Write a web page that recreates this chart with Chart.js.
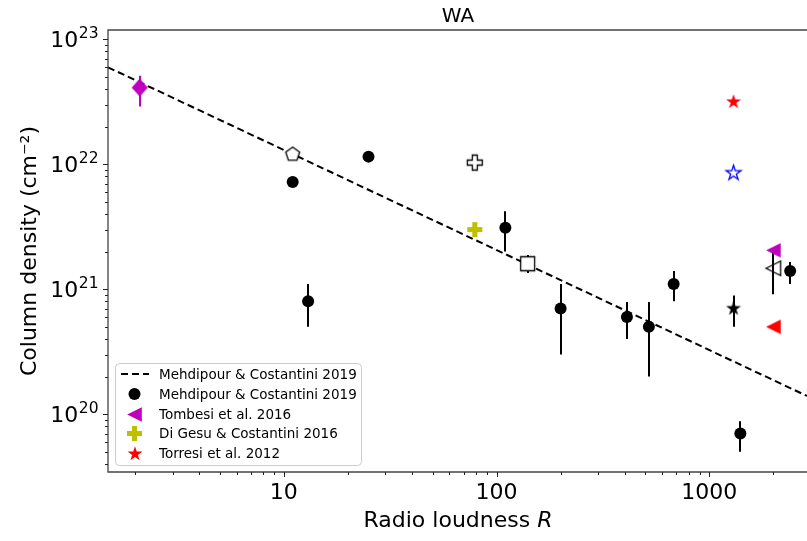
<!DOCTYPE html>
<html>
<head>
<meta charset="UTF-8">
<title>WA</title>
<script src="https://cdn.jsdelivr.net/npm/chart.js@4.4.1/dist/chart.umd.min.js"></script>
<style>
body{margin:0;background:#fff;}
</style>
</head>
<body>
<canvas id="wa" width="807" height="541"></canvas>
<script>
// Mehdipour & Costantini 2019, filled circles (radio loudness, NH, lower/upper NH)
var mcR  = [11, 13, 25, 110, 200, 410, 520, 680, 1400, 2400];
var mcNH = [7.2e21, 8.0e20, 1.15e22, 3.1e21, 7.0e20, 6.0e20, 5.0e20, 1.1e21, 7.0e19, 1.4e21];
var mcLo = [null, 5.0e20, null, 2.0e21, 3.0e20, 4.0e20, 2.0e20, 8.0e20, 5.0e19, 1.1e21];
var mcHi = [null, 1.1e21, null, 4.2e21, 1.1e21, 7.9e20, 7.9e20, 1.4e21, 8.8e19, 1.65e21];

// Mehdipour & Costantini 2019 fit, dashed line
var fitR  = [1.49, 2880];
var fitNH = [5.96e22, 1.40e20];

// Tombesi et al. 2016 (magenta)
var tbR  = [2.1, 2000];
var tbNH = [4.1e22, 2.05e21];
var tbLo = [2.9e22, null];
var tbHi = [5.1e22, null];

// Di Gesu & Costantini 2016 (yellow)
var dgR  = [79];
var dgNH = [3.0e21];

// Torresi et al. 2012 (red)
var toR  = [1300, 2000];
var toNH = [3.15e22, 5.0e20];

// other sources: open pentagon, open plus, open square, blue star, black star, open triangle
var otR  = [11, 79, 140, 1300, 1300, 2000];
var otNH = [1.2e22, 1.03e22, 1.6e21, 8.5e21, 7.0e20, 1.47e21];
var otLo = [null, null, 1.35e21, null, 5.0e20, 9.1e20];
var otHi = [null, null, 1.88e21, null, 8.9e20, 2.0e21];

var xTicks = [10, 100, 1000];
var xTickLabels = ['10', '100', '1000'];
var yTicks = [1e20, 1e21, 1e22, 1e23];
var yTickExp = ['20', '21', '22', '23'];

var legendLabels = ['Mehdipour & Costantini 2019', 'Mehdipour & Costantini 2019',
  'Tombesi et al. 2016', 'Di Gesu & Costantini 2016', 'Torresi et al. 2012'];

var FONT = 'DejaVu Sans';
var MAGENTA = '#bf00bf', YELLOW = '#bfbf00';

var shapes = {
  pentagon: function(g, r){ for (var i = 0; i < 5; i++){ var a = -Math.PI/2 + i*2*Math.PI/5; g.lineTo(r*Math.cos(a), r*Math.sin(a)); } },
  star: function(g, r){ for (var i = 0; i < 10; i++){ var a = -Math.PI/2 + i*Math.PI/5; var rr = i % 2 ? r*0.382 : r; g.lineTo(rr*Math.cos(a), rr*Math.sin(a)); } },
  plus: function(g, r){ var t = r/3;
    [[-t,-r],[t,-r],[t,-t],[r,-t],[r,t],[t,t],[t,r],[-t,r],[-t,t],[-r,t],[-r,-t],[-t,-t]].forEach(function(p){ g.lineTo(p[0], p[1]); }); },
  triLeft: function(g, r){ g.moveTo(-r, 0); g.lineTo(r, -r); g.lineTo(r, r); },
  diamond: function(g, r){ g.moveTo(0, -r); g.lineTo(r*0.9, 0); g.lineTo(0, r); g.lineTo(-r*0.9, 0); },
  square: function(g, r){ g.rect(-r, -r, 2*r, 2*r); }
};

function marker(kind, r, fill, stroke, lw) {
  var s = Math.ceil(2*r + 2*(lw || 0) + 2);
  var c = document.createElement('canvas');
  c.width = s; c.height = s;
  var g = c.getContext('2d');
  g.translate(s/2, s/2);
  g.beginPath(); shapes[kind](g, r); g.closePath();
  if (fill) { g.fillStyle = fill; g.fill(); }
  if (stroke) { g.lineWidth = lw; g.strokeStyle = stroke; g.stroke(); }
  return c;
}

var mk = {
  diamondM: marker('diamond', 9, MAGENTA),
  triM: marker('triLeft', 7.3, MAGENTA),
  plusY: marker('plus', 7.5, YELLOW),
  starR: marker('star', 7.8, 'red'),
  triR: marker('triLeft', 7.3, 'red'),
  pent: marker('pentagon', 7.3, '#fff', '#000', 1.3),
  plusO: marker('plus', 7.5, '#fff', '#000', 1.3),
  square: marker('square', 7, '#fff', '#000', 1.3),
  starB: marker('star', 7.8, '#fff', '#0000ff', 1.3),
  starK: marker('star', 7.8, '#000'),
  triO: marker('triLeft', 7.3, null, '#000', 1.3)
};

function pts(xs, ys) { return xs.map(function(x, i){ return {x: x, y: ys[i]}; }); }

// the fit line has the highest order so it is drawn underneath the markers
var datasets = [
  { type: 'line', order: 10, data: pts(fitR, fitNH), borderColor: '#000', borderWidth: 2, borderDash: [7, 4],
    pointRadius: 0, fill: false },
  { order: 1, data: pts(mcR, mcNH), errLo: mcLo, errHi: mcHi, errColor: '#000',
    pointStyle: 'circle', pointRadius: 6, backgroundColor: '#000', borderWidth: 0 },
  { order: 1, data: pts(tbR, tbNH), errLo: tbLo, errHi: tbHi, errColor: MAGENTA,
    pointStyle: [mk.diamondM, mk.triM], pointRadius: 6 },
  { order: 1, data: pts(dgR, dgNH), pointStyle: [mk.plusY], pointRadius: 6 },
  { order: 1, data: pts(toR, toNH), pointStyle: [mk.starR, mk.triR], pointRadius: 6 },
  { order: 1, data: pts(otR, otNH), errLo: otLo, errHi: otHi, errColor: '#000',
    pointStyle: [mk.pent, mk.plusO, mk.square, mk.starB, mk.starK, mk.triO], pointRadius: 6 }
];

// vertical error bars, drawn under the markers
var errorBars = {
  id: 'errorBars',
  beforeDatasetsDraw: function(chart) {
    var c = chart.ctx, xs = chart.scales.x, ys = chart.scales.y;
    c.save();
    chart.data.datasets.forEach(function(ds) {
      if (!ds.errLo) return;
      ds.data.forEach(function(p, i) {
        if (ds.errLo[i] == null) return;
        var px = Math.round(xs.getPixelForValue(p.x));
        c.beginPath();
        c.moveTo(px, ys.getPixelForValue(ds.errLo[i]));
        c.lineTo(px, ys.getPixelForValue(ds.errHi[i]));
        c.strokeStyle = ds.errColor; c.lineWidth = 2;
        c.stroke();
      });
    });
    c.restore();
  }
};

// spines, log ticks, y labels with exponents, title, x label and legend
var frame = {
  id: 'frame',
  afterDraw: function(chart) {
    var c = chart.ctx, a = chart.chartArea, xs = chart.scales.x, ys = chart.scales.y;
    c.save();
    c.strokeStyle = '#444'; c.lineWidth = 1.3;
    c.beginPath();
    c.moveTo(a.right + 2, a.top); c.lineTo(a.left, a.top);
    c.lineTo(a.left, a.bottom); c.lineTo(a.right + 2, a.bottom);
    c.stroke();

    c.lineWidth = 1; c.strokeStyle = '#222';
    for (var e = 0; e <= 3; e++) {
      for (var m = 1; m <= 9; m++) {
        var v = m * Math.pow(10, e);
        if (v < xs.min || v > xs.max) continue;
        var px = Math.round(xs.getPixelForValue(v)) + 0.5, len = m === 1 ? 5 : 3;
        c.beginPath(); c.moveTo(px, a.bottom); c.lineTo(px, a.bottom + len); c.stroke();
      }
    }
    for (e = 19; e <= 23; e++) {
      for (m = 1; m <= 9; m++) {
        v = m * Math.pow(10, e);
        if (v < ys.min || v > ys.max) continue;
        var py = Math.round(ys.getPixelForValue(v)) + 0.5;
        len = m === 1 ? 5 : 3;
        c.beginPath(); c.moveTo(a.left, py); c.lineTo(a.left - len, py); c.stroke();
      }
    }

    // y tick labels: "10" with a raised exponent
    c.fillStyle = '#000';
    c.textBaseline = 'alphabetic';
    c.textAlign = 'left';
    yTicks.forEach(function(t, i) {
      var y = ys.getPixelForValue(t) + 8;
      c.font = '15.5px "' + FONT + '"';
      var we = c.measureText(yTickExp[i]).width;
      c.font = '22px "' + FONT + '"';
      var wb = c.measureText('10').width;
      var x0 = a.left - 10 - we - wb;
      c.fillText('10', x0, y);
      c.font = '15.5px "' + FONT + '"';
      c.fillText(yTickExp[i], x0 + wb + 0.5, y - 9);
    });

    var cx = (a.left + a.right + 1) / 2;
    c.textAlign = 'center';
    c.font = '20px "' + FONT + '"';
    c.fillText('WA', cx, 22);

    c.font = '22px "' + FONT + '"';
    var t1 = 'Radio loudness ';
    var w1 = c.measureText(t1).width;
    c.font = 'italic 22px "' + FONT + '"';
    var w2 = c.measureText('R').width;
    var x0 = cx - (w1 + w2) / 2;
    c.textAlign = 'left';
    c.font = '22px "' + FONT + '"';
    c.fillText(t1, x0, 527);
    c.font = 'italic 22px "' + FONT + '"';
    c.fillText('R', x0 + w1, 527);

    // legend
    var lx = 115.5, ly = 363.5, lw = 246, lh = 102;
    c.beginPath();
    c.roundRect(lx, ly, lw, lh, 4);
    c.fillStyle = 'rgba(255,255,255,0.8)'; c.fill();
    c.strokeStyle = '#cccccc'; c.lineWidth = 1; c.stroke();
    var rows = [374, 394, 414, 433.5, 453.5];
    var hx = 134.5;
    c.beginPath(); c.setLineDash([7, 4]); c.strokeStyle = '#000'; c.lineWidth = 2;
    c.moveTo(121, rows[0]); c.lineTo(149, rows[0]); c.stroke(); c.setLineDash([]);
    c.beginPath(); c.arc(hx, rows[1], 6, 0, 2 * Math.PI); c.fillStyle = '#000'; c.fill();
    [mk.triM, mk.plusY, mk.starR].forEach(function(img, i) {
      c.drawImage(img, Math.round(hx - img.width / 2), Math.round(rows[i + 2] - img.height / 2));
    });
    c.font = '13.5px "' + FONT + '"';
    c.textBaseline = 'middle';
    c.fillStyle = '#000';
    legendLabels.forEach(function(t, i) { c.fillText(t, 159, rows[i] + 1); });
    c.restore();
  }
};

new Chart(document.getElementById('wa'), {
  type: 'scatter',
  data: { datasets: datasets },
  options: {
    responsive: false,
    animation: false,
    events: [],
    layout: { autoPadding: false, padding: { top: 30, right: 0, left: 0, bottom: 0 } },
    plugins: { legend: { display: false }, tooltip: { enabled: false } },
    scales: {
      x: {
        type: 'logarithmic', min: 1.49, max: 2880,
        grid: { display: false, drawTicks: false },
        border: { display: false },
        afterBuildTicks: function(s) { s.ticks = xTicks.map(function(v) { return { value: v }; }); },
        afterFit: function(s) { s.height = 69; },
        ticks: { autoSkip: false, maxRotation: 0, padding: 8, color: '#000',
          font: { family: FONT, size: 22 },
          callback: function(v, i) { return xTickLabels[i]; } }
      },
      y: {
        type: 'logarithmic', min: 3.45e19, max: 1.185e23,
        grid: { display: false, drawTicks: false },
        border: { display: false },
        afterBuildTicks: function(s) { s.ticks = yTicks.map(function(v) { return { value: v }; }); },
        afterFit: function(s) { s.width = 108; },
        ticks: { display: false },
        title: { display: true, text: 'Column density (cm\u207B\u00B2)', color: '#000',
          font: { family: FONT, size: 22 }, padding: { top: 17, bottom: 0 } }
      }
    }
  },
  plugins: [errorBars, frame]
});
</script>
</body>
</html>
